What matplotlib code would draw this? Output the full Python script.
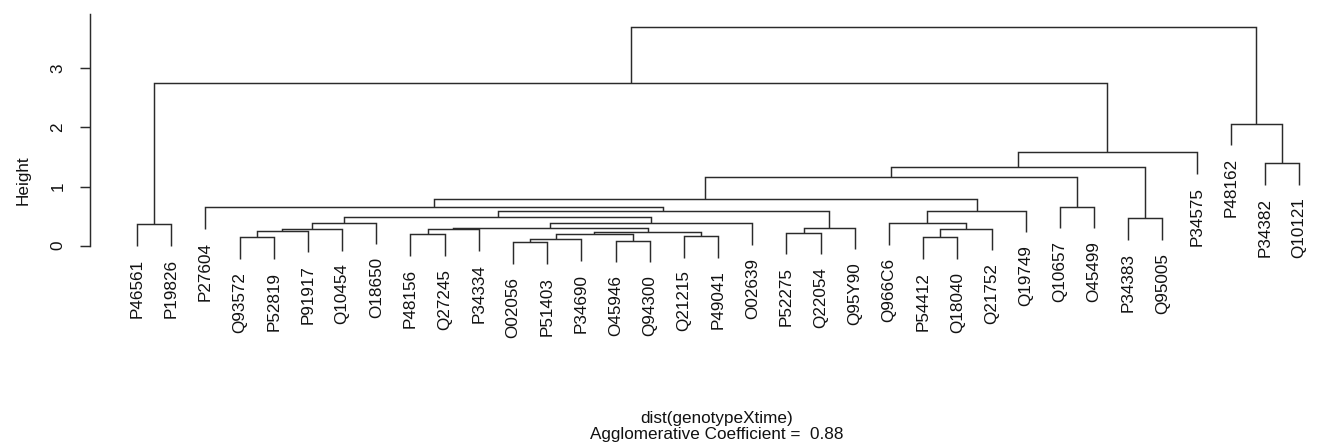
import matplotlib
matplotlib.use("Agg")
import matplotlib.pyplot as plt

plt.rcParams['font.family'] = ['Liberation Sans', 'DejaVu Sans']

# Leaves in plotting order (left to right)
leaf_labels = [
    "P46561", "P19826", "P27604", "Q93572", "P52819", "P91917", "Q10454",
    "O18650", "P48156", "Q27245", "P34334", "O02056", "P51403", "P34690",
    "O45946", "Q94300", "Q21215", "P49041", "O02639", "P52275", "Q22054",
    "Q95Y90", "Q966C6", "P54412", "Q18040", "Q21752", "Q19749", "Q10657",
    "O45499", "P34383", "Q95005", "P34575", "P48162", "P34382", "Q10121",
]

# Merge table (hclust convention): negative = leaf position, positive = earlier merge
merge_left = [-12, -15, 1, -4, -24, -17, -9, 3, -20, 8, 4, 7, 11, 5, 12, 9, -1,
              15, -23, 13, -30, 20, 22, 19, -3, -28, 25, 27, 28, -34, 29, -33, 17, 33]
merge_right = [-13, -16, -14, -5, -25, -18, -10, 2, -21, 6, -6, -11, -7, -26, 10,
               -22, -2, -19, 14, -8, -31, 18, 16, -27, 23, -29, 24, 26, 21, -35,
               -32, 30, 31, 32]
merge_height = [0.057, 0.085, 0.108, 0.142, 0.142, 0.164, 0.193, 0.193, 0.220,
                0.227, 0.250, 0.277, 0.283, 0.288, 0.305, 0.305, 0.365, 0.379,
                0.379, 0.392, 0.464, 0.478, 0.592, 0.592, 0.650, 0.660, 0.790,
                1.157, 1.327, 1.400, 1.580, 2.064, 2.748, 3.706]

y_ticks = [0, 1, 2, 3]
hang = 0.365
y_label = "Height"
sub_title = "dist(genotypeXtime)"
coef_text = "Agglomerative Coefficient =  0.88"

line_col = "#2b2b2b"
fs = 12.3

fig = plt.figure(figsize=(13.17, 4.45), dpi=100)
ax = fig.add_axes([0.09104, 0.3815, 0.9084, 0.5976])
ax.set_xlim(0.5, 35.5)
ax.set_ylim(-0.5, 4.0)

node_x = {}
node_h = {}


def child_pos(c, parent_h):
    if c < 0:
        return float(-c), parent_h - hang, True
    return node_x[c], node_h[c], False


for k, (a, b, h) in enumerate(zip(merge_left, merge_right, merge_height), start=1):
    xa, ya, la = child_pos(a, h)
    xb, yb, lb = child_pos(b, h)
    ax.plot([xa, xa, xb, xb], [ya, h, h, yb], color=line_col, lw=1.05,
            solid_capstyle='butt', solid_joinstyle='miter', clip_on=False)
    for c, xc, yc, is_leaf in ((a, xa, ya, la), (b, xb, yb, lb)):
        if is_leaf:
            ax.text(xc, yc - 0.22, leaf_labels[-c - 1], rotation=90,
                    ha='center', va='top', fontsize=fs, color='#111111',
                    clip_on=False)
    node_x[k] = (xa + xb) / 2.0
    node_h[k] = h

for s in ('top', 'right', 'bottom'):
    ax.spines[s].set_visible(False)
ax.spines['left'].set_position(('outward', 21.5))
ax.spines['left'].set_bounds(0, 3.92)
ax.spines['left'].set_color(line_col)
ax.spines['left'].set_linewidth(1.05)
ax.set_xticks([])
ax.set_yticks(y_ticks)
ax.set_yticklabels([str(t) for t in y_ticks])
ax.tick_params(axis='y', length=7.2, width=1.05, color=line_col, pad=10.5,
               labelsize=fs, labelcolor='#111111')
for lbl in ax.get_yticklabels():
    lbl.set_rotation(90)
    lbl.set_va('center')
    lbl.set_ha('right')
ax.patch.set_visible(False)

fig.text(23 / 1317, 1 - 180 / 445, y_label, rotation=90, ha='center',
         va='center', fontsize=fs, color='#111111')
fig.text(717 / 1317, 1 - 419 / 445, sub_title, ha='center', va='center',
         fontsize=fs, color='#111111')
fig.text(717 / 1317, 1 - 434 / 445, coef_text, ha='center', va='center',
         fontsize=fs, color='#111111')

fig.savefig("out.png", dpi=100, facecolor='white')
